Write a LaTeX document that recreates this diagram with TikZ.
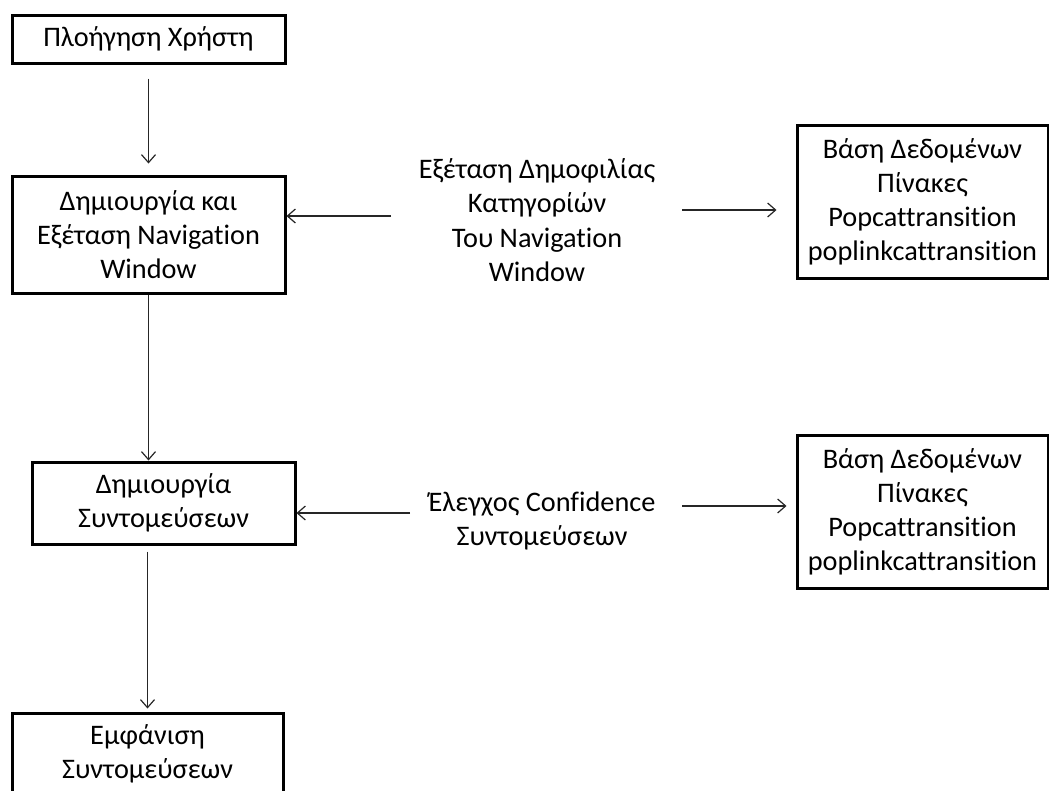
\documentclass[tikz,border=0pt]{standalone}
\usepackage{fontspec}
\setmainfont{Carlito}[Ligatures={NoCommon}]
\usetikzlibrary{arrows.meta,calc}

\tikzset{
  box/.style={draw=black, line width=3pt, inner sep=0pt, align=center,
              font=\fontsize{28.3}{34}\selectfont},
  lbl/.style={inner sep=0pt, align=center, font=\fontsize{28.3}{34.5}\selectfont},
  arr/.style={draw=black!85, line width=1.2pt,
              -{Straight Barb[length=8pt,width=14pt,line width=1.2pt]}}
}

\begin{document}
\begin{tikzpicture}[x=1pt,y=-1pt]
  \useasboundingbox (0,0) rectangle (1049,790);
  \clip (0,0) rectangle (1049,790);

  % main flow on the left
  \node[box, minimum width=273pt, minimum height=48pt]  (nav)   at (148.5,39)  {Πλοήγηση Χρήστη};
  \node[box, minimum width=273pt, minimum height=117pt] (win)   at (148.5,234.5) {Δημιουργία και\\Εξέταση Navigation\\Window};
  \node[box, minimum width=263pt, minimum height=82pt]  (make)  at (163.5,503) {Δημιουργία\\Συντομεύσεων};
  \node[box, minimum width=271pt, minimum height=82pt]  (show)  at (147.5,754) {Εμφάνιση\\Συντομεύσεων};

  % database boxes on the right
  \node[box, minimum width=251pt, minimum height=153pt] (db1) at (922.5,201.5)
    {Βάση Δεδομένων\\Πίνακες\\Popcattransition\\poplinkcattransition};
  \node[box, minimum width=251pt, minimum height=153pt] (db2) at (922.5,511.5)
    {Βάση Δεδομένων\\Πίνακες\\Popcattransition\\poplinkcattransition};

  % middle labels
  \node[lbl] (pop)  at (537,220) {Εξέταση Δημοφιλίας\\Κατηγορίών\\Του Navigation\\Window};
  \node[lbl] (conf) at (542,521) {Έλεγχος Confidence\\Συντομεύσεων};

  % vertical flow
  \draw[arr, shorten <=14pt, shorten >=11pt] (nav.south) -- (win.north);
  \draw[arr] (win.south) -- (win.south |- make.north);
  \draw[arr, shorten <=6pt, shorten >=3pt] (make.south -| show.north) -- (show.north);

  % connectors around the labels
  \coordinate (p1) at (391,216);
  \coordinate (p2) at (682,210);
  \coordinate (c1) at (410,513);
  \coordinate (c2) at (682,506);
  \draw[arr] (p1) -- (p1 -| win.east);
  \draw[arr, shorten >=19pt] (p2) -- (p2 -| db1.west);
  \draw[arr] (c1) -- (c1 -| make.east);
  \draw[arr, shorten >=9pt] (c2) -- (c2 -| db2.west);
\end{tikzpicture}
\end{document}
